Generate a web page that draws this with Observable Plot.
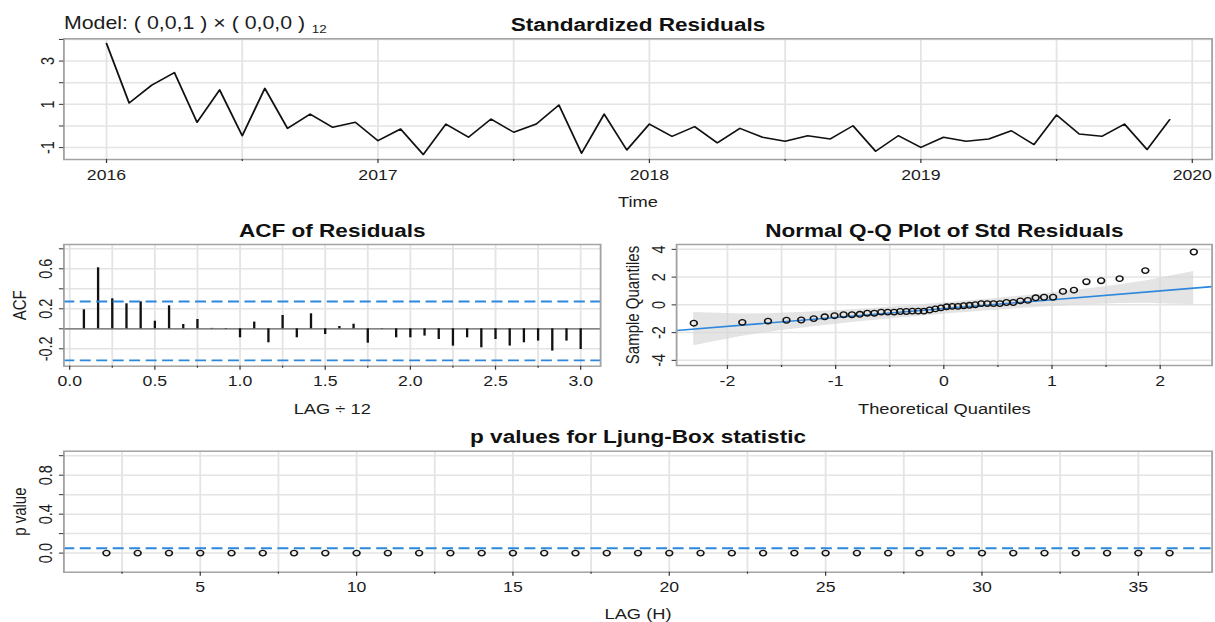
<!DOCTYPE html>
<html>
<head>
<meta charset="utf-8">
<script src="https://cdn.jsdelivr.net/npm/d3@7"></script>
<script src="https://cdn.jsdelivr.net/npm/@observablehq/plot@0.6"></script>
<style>
  html, body { margin: 0; padding: 0; background: #fff; overflow: hidden; }
  #wrap { position: absolute; left: 0; top: 0; width: 996px; height: 622px; transform-origin: 0 0; }
  #wrap > div, #wrap > svg { position: absolute; }
</style>
</head>
<body>
<div id="wrap"></div>
<script>
// ---------------- data ----------------
const residuals = [
  3.81, 1.06, 1.89, 2.47, 0.17, 1.67, -0.45, 1.74, -0.11, 0.55, -0.06, 0.17,
  -0.68, -0.14, -1.32, 0.09, -0.52, 0.32, -0.29, 0.09, 0.97, -1.26, 0.55, -1.11,
  0.09, -0.48, -0.03, -0.78, -0.11, -0.52, -0.71, -0.45, -0.60, 0.01, -1.17, -0.45,
  -0.99, -0.52, -0.71, -0.60, -0.22, -0.86, 0.51, -0.37, -0.48, 0.09, -1.09, 0.29
];
const startYear = 2016;            // monthly series, Jan 2016 .. Dec 2019
const acfValues = [
  0.19, 0.61, 0.30, 0.25, 0.27, 0.076, 0.23, 0.043, 0.093, 0.004, -0.004, -0.09,
  0.067, -0.14, 0.133, -0.09, 0.15, -0.057, 0.023, 0.046, -0.144, 0.003, -0.09, -0.09,
  -0.073, -0.107, -0.173, -0.09, -0.19, -0.107, -0.173, -0.14, -0.123, -0.223, -0.123, -0.207
];
const acfBounds = [0.273, -0.315];
const lbPValues = [
  0, 0, 0, 0, 0, 0, 0, 0, 0, 0, 0, 0, 0, 0, 0, 0, 0, 0,
  0, 0, 0, 0, 0, 0, 0, 0, 0, 0, 0, 0, 0, 0, 0, 0, 0
];                                  // lags 2..36
const lbFirstLag = 2;
const lbLevel = 0.05;
const qqIntercept = -0.27, qqSlope = 0.64;   // qqline
const bandZ = 2.25;

// tick values
const tsMajorX = [2016, 2017, 2018, 2019, 2020];
const tsMinorX = [2016.5, 2017.5, 2018.5, 2019.5];
const tsMajorY = [-1, 1, 3];
const tsMinorY = [0, 2, 4];
const acfMajorX = [0, 0.5, 1, 1.5, 2, 2.5, 3];
const acfMinorX = [0.25, 0.75, 1.25, 1.75, 2.25, 2.75];
const acfMajorY = [-0.2, 0.2, 0.6];
const acfMinorY = [0, 0.4, 0.8];
const qqMajorX = [-2, -1, 0, 1, 2];
const qqMinorX = [-1.5, -0.5, 0.5, 1.5];
const qqMajorY = [-4, -2, 0, 2, 4];
const lbMajorX = [5, 10, 15, 20, 25, 30, 35];
const lbMinorX = [2.5, 7.5, 12.5, 17.5, 22.5, 27.5, 32.5];
const lbMajorY = [0, 0.4, 0.8];
const lbMinorY = [0.2, 0.6, 1.0];

// ---------------- helpers ----------------
const S = 1215 / 996;
const W = 996;
const FONT = "'Liberation Sans', Arial, Helvetica, sans-serif";
const GRID = "#e4e4e4", FRAME = "#a3a3a3", BLUE = "#2d87dc", INK = "#1c1c1c";
const frameL = 63.3 / S, frameR = 1211.5 / S;
const style = {fontFamily: FONT, fontSize: "14.5px", color: INK, background: "transparent", overflow: "visible"};

function qnorm(p) {
  const a = [-3.969683028665376e+01, 2.209460984245205e+02, -2.759285104469687e+02, 1.383577518672690e+02, -3.066479806614716e+01, 2.506628277459239e+00];
  const b = [-5.447609879822406e+01, 1.615858368580409e+02, -1.556989798598866e+02, 6.680131188771972e+01, -1.328068155288572e+01];
  const c = [-7.784894002430293e-03, -3.223964580411365e-01, -2.400758277161838e+00, -2.549732539343734e+00, 4.374664141464968e+00, 2.938163982698783e+00];
  const d = [7.784695709041462e-03, 3.224671290700398e-01, 2.445134137142996e+00, 3.754408661907416e+00];
  const pl = 0.02425, ph = 1 - pl;
  let q, r;
  if (p < pl) { q = Math.sqrt(-2 * Math.log(p)); return (((((c[0]*q+c[1])*q+c[2])*q+c[3])*q+c[4])*q+c[5]) / ((((d[0]*q+d[1])*q+d[2])*q+d[3])*q+1); }
  if (p <= ph) { q = p - 0.5; r = q*q; return (((((a[0]*r+a[1])*r+a[2])*r+a[3])*r+a[4])*r+a[5])*q / (((((b[0]*r+b[1])*r+b[2])*r+b[3])*r+b[4])*r+1); }
  q = Math.sqrt(-2 * Math.log(1 - p)); return -(((((c[0]*q+c[1])*q+c[2])*q+c[3])*q+c[4])*q+c[5]) / ((((d[0]*q+d[1])*q+d[2])*q+d[3])*q+1);
}
const dnorm = z => Math.exp(-z * z / 2) / Math.sqrt(2 * Math.PI);

const title = (t, dy) => Plot.text([t], {text: d => d, frameAnchor: "top", dy, lineAnchor: "bottom", fontWeight: "bold", fontSize: 18.5, fill: "#111"});
const xlab = (t, dy) => Plot.text([t], {text: d => d, frameAnchor: "bottom", dy, lineAnchor: "bottom", fontSize: 15, fill: INK});
const ylab = (t, dx) => Plot.text([t], {text: d => d, frameAnchor: "left", dx, rotate: -90, lineAnchor: "bottom", textAnchor: "middle", fontSize: 15, fill: INK});
const gridX = v => Plot.ruleX(v, {stroke: GRID, strokeWidth: 1.5});
const gridY = v => Plot.ruleY(v, {stroke: GRID, strokeWidth: 1.5});

function axes({xMajor, xMinor, xFmt, yMajor, yMinor, yFmt, yPad = 6}) {
  const m = [
    Plot.axisX({ticks: xMajor, tickSize: 4, tickPadding: 6, tickFormat: xFmt, label: null, stroke: "#333"}),
    Plot.axisY({ticks: yMajor, tickSize: 3.6, tickPadding: yPad, tickRotate: -90, tickFormat: yFmt, label: null, stroke: "#333"})
  ];
  if (xMinor) m.push(Plot.axisX({ticks: xMinor, tickSize: 2, tickFormat: () => "", label: null, stroke: "#333"}));
  if (yMinor) m.push(Plot.axisY({ticks: yMinor, tickSize: 3.6, tickFormat: () => "", label: null, stroke: "#333"}));
  return m;
}
const fmtInt = d => String(d);
const fmt1 = d => d.toFixed(1);

const wrap = document.getElementById("wrap");
wrap.style.transform = `scaleX(${S})`;
function place(node, left, top) {
  node.style.left = left + "px";
  node.style.top = top + "px";
  wrap.appendChild(node);
  return node;
}

// ---------------- panel A: standardized residuals ----------------
const tsData = residuals.map((v, i) => ({t: startYear + i / 12, v}));
const A = Plot.plot({
  width: W, height: 215,
  marginLeft: frameL, marginRight: W - frameR, marginTop: 38.3, marginBottom: 56,
  x: {domain: [2015.843, 2020.073]},
  y: {domain: [-1.55, 4.03]},
  style,
  marks: [
    gridX([...tsMajorX, ...tsMinorX]),
    gridY([...tsMajorY, ...tsMinorY]),
    Plot.line(tsData, {x: "t", y: "v", stroke: "#111", strokeWidth: 1.5}),
    Plot.frame({stroke: FRAME, strokeWidth: 1.5}),
    ...axes({xMajor: tsMajorX, xMinor: tsMinorX, xFmt: fmtInt, yMajor: tsMajorY, yMinor: tsMinorY, yFmt: fmtInt, yPad: 4.8}),
    title("Standardized Residuals", -7.8),
    xlab("Time", 47.5),
    Plot.text(["Model: ( 0,0,1 ) × ( 0,0,0 )"], {text: d => d, frameAnchor: "top-left", dy: -10.3, lineAnchor: "bottom", textAnchor: "start", fontSize: 17.5, fill: INK})
  ]
});
place(A, 0, 0);
d3.select(A).selectAll("text").filter(function () { return this.textContent.startsWith("Model:"); })
  .append("tspan").attr("dx", 5.5).attr("dy", 4).attr("font-size", 11).text("12");

// ---------------- panel B: ACF of residuals ----------------
const acfData = acfValues.map((v, i) => ({lag: (i + 1) / 12, v}));
const B = Plot.plot({
  width: 500, height: 205,
  marginLeft: frameL, marginRight: 500 - 600 / S, marginTop: 29, marginBottom: 54.3,
  x: {domain: [-0.034, 3.117]},
  y: {domain: [-0.374, 0.843]},
  style,
  marks: [
    gridX([...acfMajorX, ...acfMinorX]),
    gridY([...acfMajorY, ...acfMinorY]),
    Plot.ruleY([0], {stroke: "#666", strokeWidth: 1.3}),
    Plot.ruleX(acfData, {x: "lag", y1: 0, y2: "v", stroke: "#111", strokeWidth: 1.9}),
    Plot.ruleY(acfBounds, {stroke: BLUE, strokeWidth: 1.8, strokeDasharray: "9,4.5"}),
    Plot.frame({stroke: FRAME, strokeWidth: 1.5}),
    ...axes({xMajor: acfMajorX, xMinor: acfMinorX, xFmt: fmt1, yMajor: acfMajorY, yMinor: acfMinorY, yFmt: fmt1}),
    title("ACF of Residuals", -7.5),
    xlab("LAG ÷ 12", 47.8),
    ylab("ACF", -31.4)
  ]
});
place(B, 0, 215);

// ---------------- panel C: normal Q-Q plot ----------------
const sorted = residuals.slice().sort(d3.ascending);
const n = sorted.length;
const qqData = sorted.map((s, i) => {
  const P = (i + 0.5) / n;
  const z = qnorm(P);
  const fit = qqIntercept + qqSlope * z;
  const se = Math.sqrt(P * (1 - P) / n) / dnorm(z);
  return {z, s, lo: fit - bandZ * se, hi: fit + bandZ * se};
});
const qqX = [-2.47, 2.48];
const qqLine = qqX.map(z => ({z, y: qqIntercept + qqSlope * z}));
const C = Plot.plot({
  width: 496, height: 205,
  marginLeft: 676 / S - 500, marginRight: 496 - (frameR - 500), marginTop: 29, marginBottom: 55,
  x: {domain: qqX},
  y: {domain: [-4.37, 4.35]},
  style,
  marks: [
    gridX([...qqMajorX, ...qqMinorX]),
    gridY(qqMajorY),
    Plot.areaY(qqData, {x: "z", y1: "lo", y2: "hi", fill: "#d6d6d6", fillOpacity: 0.65}),
    Plot.line(qqLine, {x: "z", y: "y", stroke: BLUE, strokeWidth: 1.6}),
    Plot.dot(qqData, {x: "z", y: "s", r: 2.8, stroke: "#111", strokeWidth: 1.3, fill: "none"}),
    Plot.frame({stroke: FRAME, strokeWidth: 1.5}),
    ...axes({xMajor: qqMajorX, xMinor: qqMinorX, xFmt: fmtInt, yMajor: qqMajorY, yFmt: fmtInt}),
    title("Normal Q-Q Plot of Std Residuals", -7.5),
    xlab("Theoretical Quantiles", 48),
    ylab("Sample Quantiles", -31)
  ]
});
place(C, 500, 215);

// ---------------- panel D: Ljung-Box p values ----------------
const lbData = lbPValues.map((p, i) => ({lag: lbFirstLag + i, p}));
const D = Plot.plot({
  width: W, height: 202,
  marginLeft: frameL, marginRight: W - frameR, marginTop: 30.7, marginBottom: 50.3,
  x: {domain: [0.64, 37.36]},
  y: {domain: [-0.196, 1.046]},
  style,
  marks: [
    gridX([...lbMajorX, ...lbMinorX]),
    gridY([...lbMajorY, ...lbMinorY]),
    Plot.ruleY([lbLevel], {stroke: BLUE, strokeWidth: 1.8, strokeDasharray: "9,4.5"}),
    Plot.dot(lbData, {x: "lag", y: "p", r: 2.8, stroke: "#111", strokeWidth: 1.3, fill: "none"}),
    Plot.frame({stroke: FRAME, strokeWidth: 1.5}),
    ...axes({xMajor: lbMajorX, xMinor: lbMinorX, xFmt: fmtInt, yMajor: lbMajorY, yMinor: lbMinorY, yFmt: fmt1}),
    title("p values for Ljung-Box statistic", -8),
    xlab("LAG (H)", 46.5),
    ylab("p value", -31.4)
  ]
});
place(D, 0, 420);
</script>
</body>
</html>
